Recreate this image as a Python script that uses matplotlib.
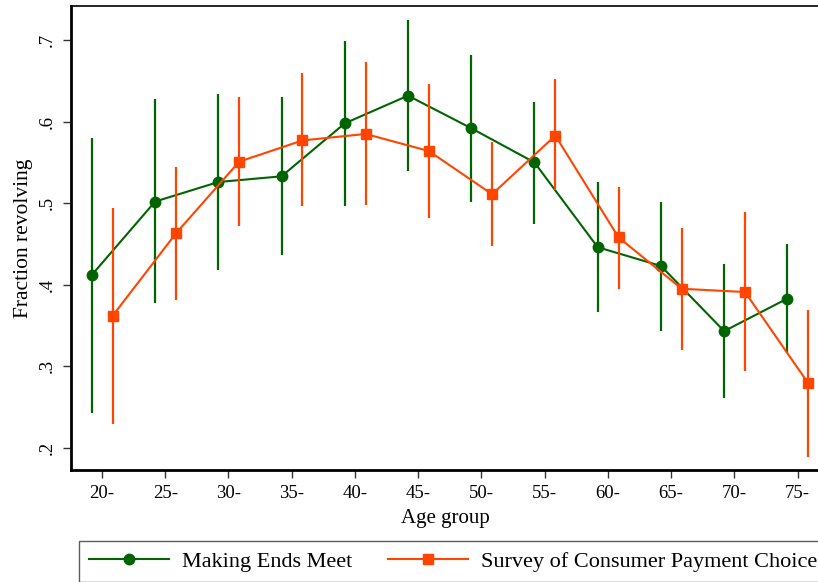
import matplotlib
matplotlib.use('Agg')
import matplotlib.pyplot as plt
import numpy as np

# age groups
ages = [20, 25, 30, 35, 40, 45, 50, 55, 60, 65, 70, 75]
tick_labels = [f"{a}-" for a in ages]

# Making Ends Meet
mem_mean = [0.412, 0.502, 0.526, 0.533, 0.598, 0.632, 0.592, 0.550, 0.446, 0.423, 0.343, 0.383]
mem_hi = [0.580, 0.628, 0.634, 0.630, 0.699, 0.725, 0.682, 0.624, 0.526, 0.502, 0.425, 0.450]
mem_lo = [0.243, 0.377, 0.418, 0.436, 0.496, 0.539, 0.501, 0.475, 0.366, 0.343, 0.261, 0.316]

# Survey of Consumer Payment Choice
spc_mean = [0.362, 0.463, 0.551, 0.577, 0.585, 0.564, 0.511, 0.583, 0.458, 0.395, 0.391, 0.279]
spc_hi = [0.494, 0.545, 0.630, 0.660, 0.673, 0.646, 0.575, 0.652, 0.520, 0.470, 0.489, 0.369]
spc_lo = [0.229, 0.381, 0.472, 0.497, 0.498, 0.482, 0.447, 0.516, 0.395, 0.320, 0.294, 0.188]

green = '#006400'
orange = '#ff4500'

plt.rcParams['font.family'] = ['Liberation Serif', 'DejaVu Serif']

fig = plt.figure(figsize=(8.18, 5.82), dpi=100)
ax = fig.add_axes([71/818, 112/582, 748/818, 464/582])

x = np.array(ages, dtype=float)
xg = x - 0.8
xo = x + 0.85

mm = np.array(mem_mean)
sm = np.array(spc_mean)

# confidence bars + means, orange drawn on top
ax.vlines(xg, mem_lo, mem_hi, color=green, lw=1.6, zorder=2)
ln1, = ax.plot(xg, mm, color=green, lw=1.5, marker='o', ms=7.5, zorder=3,
               label='Making Ends Meet')
ax.vlines(xo, spc_lo, spc_hi, color=orange, lw=1.6, zorder=4)
ln2, = ax.plot(xo, sm, color=orange, lw=1.5, marker='s', ms=7, zorder=5,
               label='Survey of Consumer Payment Choice')

ax.set_xlim(17.55, 76.7)
ax.set_ylim(0.1726, 0.742)

ax.set_xticks(ages)
ax.set_xticklabels(tick_labels, fontsize=13.5)
ax.set_yticks([0.2, 0.3, 0.4, 0.5, 0.6, 0.7])
ax.set_yticklabels(['.2', '.3', '.4', '.5', '.6', '.7'], fontsize=13.5,
                   rotation=90, va='center')
ax.tick_params(axis='both', direction='out', length=6, width=1, color='#333333', pad=5)

ax.set_xlabel('Age group', fontsize=15, labelpad=5)
ax.set_ylabel('Fraction revolving', fontsize=15.5, labelpad=4)

ax.spines['right'].set_visible(False)
ax.spines['left'].set_linewidth(2)
ax.spines['bottom'].set_linewidth(2)
ax.spines['top'].set_linewidth(1.2)

leg = fig.legend(handles=[ln1, ln2], loc='upper left',
                 bbox_to_anchor=(79/818, 1 - 541/582), ncol=2,
                 fontsize=16, frameon=True, fancybox=False, edgecolor='#333333',
                 handlelength=3.6, handletextpad=0.6, columnspacing=1.6,
                 borderpad=0.45, borderaxespad=0)
leg.get_frame().set_linewidth(1)

fig.savefig('out.png', dpi=100)
